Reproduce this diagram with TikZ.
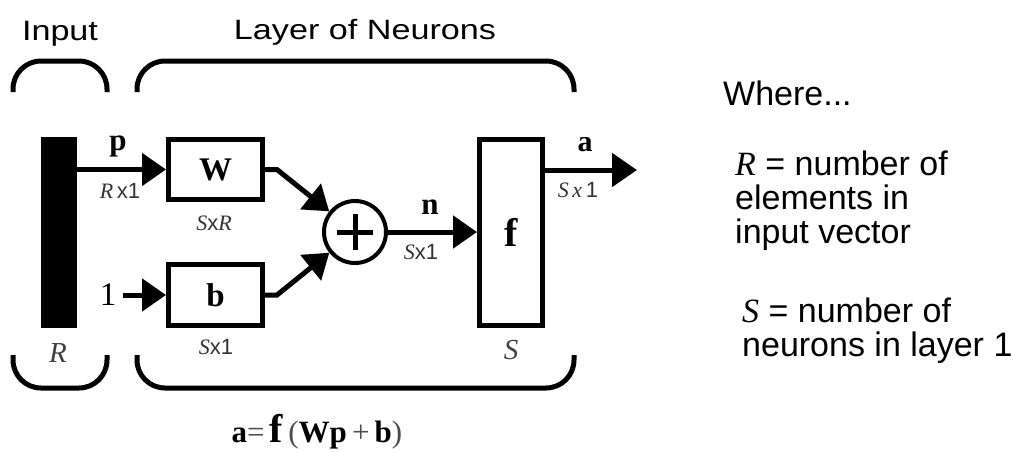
\documentclass[tikz,border=0pt]{standalone}
\usepackage{fontspec}
\setmainfont{Liberation Serif}
\newfontfamily\arial{Liberation Sans}
\newfontfamily\arialw[FakeStretch=1.22]{Liberation Sans}
\usetikzlibrary{arrows.meta}
\newcommand{\fs}[1]{\fontsize{#1}{#1}\selectfont}
\begin{document}
\begin{tikzpicture}[x=1pt,y=-1pt,
  box/.style={draw,line width=5pt,inner sep=0pt,minimum width=94pt,minimum height=60pt,font=\fs{33}\bfseries},
  conn/.style={line width=5pt,-{Triangle[length=24pt,width=32pt]}},
  bracket/.style={line width=5pt,rounded corners=28pt},
  bl/.style={inner sep=0pt,font=\fs{31}\bfseries},
  dim/.style={inner sep=0pt,text=black!80,font=\fs{22}},
  ital/.style={inner sep=0pt,text=black!75,font=\fs{29}\itshape},
  head/.style={inner sep=0pt,anchor=base,font=\arialw\fs{28}},
  side/.style={inner sep=0pt,anchor=base west,font=\arial\fs{34}}]
\useasboundingbox (0,0) rectangle (1014,451);

% brackets
\draw[bracket] (13,92) -- (13,61) -- (107,61) -- (107,92);
\draw[bracket] (137,92) -- (137,61) -- (574,61) -- (574,92);
\draw[bracket] (13,355) -- (13,388) -- (107,388) -- (107,355);
\draw[bracket] (137,355) -- (137,388) -- (574,388) -- (574,355);

% headings
\node[head] (tin) at (60,40) {Input};
\node[head] (tlay) at (365,39) {Layer of Neurons};

% blocks
\node[fill,inner sep=0pt,minimum width=36pt,minimum height=191pt] (bar) at (59,232.5) {};
\node[box] (W) at (215.5,169.5) {W};
\node[box,minimum height=61pt] (b) at (215.5,295) {b};
\node[circle,draw,line width=4pt,inner sep=0pt,minimum size=62pt] (sum) at (355,232) {};
\draw[line width=5pt] ([xshift=-18pt]sum.center) -- ([xshift=18pt]sum.center);
\draw[line width=5pt] ([yshift=-18pt]sum.center) -- ([yshift=18pt]sum.center);
\node[draw,line width=5pt,inner sep=0pt,minimum width=63pt,minimum height=186pt,font=\fs{40}\bfseries] (f) at (511,232.5) {f};
\node[inner sep=0pt,inner xsep=7pt,font=\fs{33}] (one) at (108,295) {1};
\coordinate (aout) at (637,170);

% connectors
\draw[conn] (bar.east |- W.west) -- (W.west);
\draw[conn] (one.east) -- (b.west);
\draw[conn] (W.east) -- ++(12,0) -- (sum);
\draw[conn] (b.east) -- ++(12,0) -- (sum);
\draw[conn] (sum) -- (sum -| f.west);
\draw[line width=5pt,-{Triangle[length=25pt,width=33pt]}] (f.north east |- aout) -- (aout);

% labels
\node[bl] (lp) at (118,146) {p};
\node[dim] (lrx1) at (120,191) {\textit{R}\,{\arial x1}};
\node[dim] (lsxr) at (214,223) {\textit{S}{\arial x}\textit{R}};
\node[dim] (lsx1b) at (216,347) {\textit{S}{\arial x1}};
\node[bl] (ln) at (430,207) {n};
\node[dim] (lsx1n) at (421,252) {\textit{S}{\arial x1}};
\node[bl,font=\fs{30}\bfseries] (la) at (585,145) {a};
\node[dim] (lsx1a) at (578,190) {\textit{S}\,\textit{x}\,{\arial 1}};
\node[ital] (lR) at (58,353) {R};
\node[ital] (lS) at (511,350) {S};

% equation
\node[inner sep=0pt,anchor=base,font=\fs{31}] (eq) at (317,442)
  {\textbf{a}{\color{black!70}=}\,{\fs{40}\bfseries f}\,{\color{black!70}(}\textbf{Wp}\,{\color{black!70}+}\,\textbf{b}{\color{black!70})}};

% side text
\node[side] (w1) at (723,105) {Where...};
\node[side] (r1) at (735,175) {{\rmfamily\itshape R} = number of};
\node[side] (r2) at (735,209) {elements in};
\node[side] (r3) at (735,243) {input vector};
\node[side] (s1) at (742,322) {{\rmfamily\itshape S} = number of};
\node[side] (s2) at (742,356) {neurons in layer 1};
\end{tikzpicture}
\end{document}
